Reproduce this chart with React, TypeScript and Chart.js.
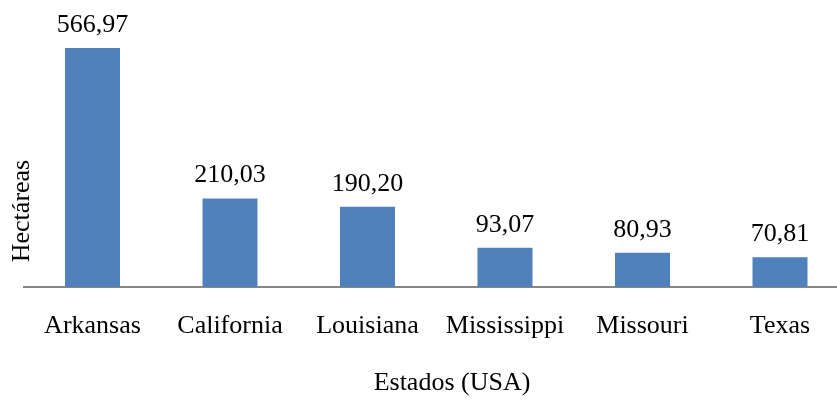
import React, { useEffect, useRef } from "react";
import { Chart, registerables } from "chart.js";

Chart.register(...registerables);

const categories = ["Arkansas", "California", "Louisiana", "Mississippi", "Missouri", "Texas"];
const hectares = [566.97, 210.03, 190.2, 93.07, 80.93, 70.81];
const valueLabels = ["566,97", "210,03", "190,20", "93,07", "80,93", "70,81"];
const xTitle = "Estados (USA)";
const yTitle = "Hectáreas";

const FONT = "'Liberation Serif', 'Times New Roman', Times, serif";

export default function App() {
  const ref = useRef<HTMLCanvasElement | null>(null);

  useEffect(() => {
    if (!ref.current) return;
    let chart: Chart | null = null;
    let cancelled = false;

    const textPlugin = {
      id: "textPlugin",
      afterDatasetsDraw(c: any) {
        const ctx = c.ctx;
        const meta = c.getDatasetMeta(0);
        ctx.save();
        ctx.fillStyle = "#000";
        ctx.font = `26px ${FONT}`;
        ctx.textAlign = "center";
        ctx.textBaseline = "alphabetic";
        meta.data.forEach((bar: any, i: number) => {
          ctx.fillText(valueLabels[i], bar.x, bar.y - 16);
        });
        ctx.textBaseline = "middle";
        ctx.fillText(xTitle, 452, 383);
        ctx.translate(22, 211);
        ctx.rotate(-Math.PI / 2);
        ctx.fillText(yTitle, 0, 0);
        ctx.restore();
      },
    };

    const make = () => {
      if (cancelled || !ref.current) return;
      chart = new Chart(ref.current, {
        type: "bar",
        data: {
          labels: categories,
          datasets: [
            {
              data: hectares,
              backgroundColor: "#4F81BD",
              borderWidth: 0,
              barPercentage: 0.4,
              categoryPercentage: 1,
            },
          ],
        },
        options: {
          responsive: false,
          animation: false,
          maintainAspectRatio: false,
          layout: { padding: { left: 23.75, right: 11.25, top: 34, bottom: 0 } },
          plugins: { legend: { display: false }, tooltip: { enabled: false } },
          scales: {
            x: {
              grid: { display: false, drawTicks: false },
              border: { display: true, color: "#868686", width: 2 },
              ticks: {
                color: "#000",
                font: { family: FONT, size: 26 },
                padding: 24,
                maxRotation: 0,
                autoSkip: false,
              },
              afterFit: (scale: any) => {
                scale.height = 406 - 34 - 253;
              },
            },
            y: {
              display: false,
              min: 0,
              max: 600,
            },
          },
        },
        plugins: [textPlugin],
      });
    };

    const fonts: any = (document as any).fonts;
    if (fonts && fonts.load) {
      fonts.load("26px 'Liberation Serif'").then(make, make);
    } else {
      make();
    }
    return () => {
      cancelled = true;
      if (chart) chart.destroy();
    };
  }, []);

  return (
    <div style={{ position: "fixed", left: 0, top: 0, width: 837, height: 406, overflow: "hidden", background: "#fff" }}>
      <canvas ref={ref} width={860} height={406} style={{ display: "block", width: 860, height: 406 }} />
    </div>
  );
}
